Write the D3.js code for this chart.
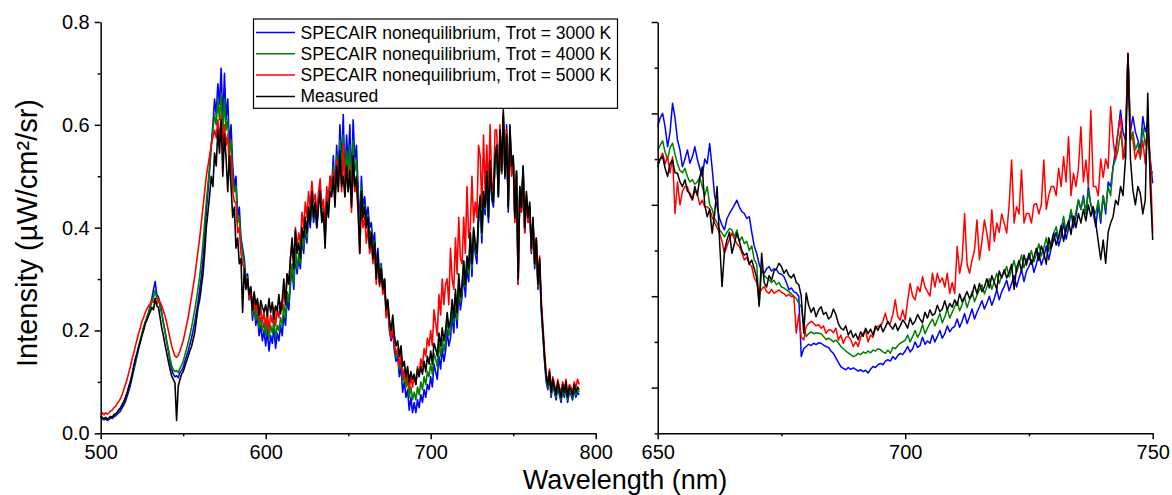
<!DOCTYPE html>
<html>
<head>
<meta charset="utf-8">
<script src="https://cdn.jsdelivr.net/npm/d3@7"></script>
<style>
  body { margin: 0; background: #fff; }
  svg { font-family: "Liberation Sans", Arial, sans-serif; }
</style>
</head>
<body>
<div class="main"></div>
<script>
// left panel: 500-790 nm, 1 nm grid
const leftStart = 500, leftStep = 1;
const leftMeasured = [
  .034,.030,.028,.031,.027,.030,.033,.031,.036,.038,
  .041,.046,.049,.056,.061,.070,.078,.090,.100,.113,
  .130,.145,.155,.168,.178,.190,.200,.213,.220,.229,
  .236,.245,.240,.262,.248,.245,.225,.205,.190,.172,
  .156,.140,.125,.112,.105,.098,.025,.092,.104,.115,
  .120,.130,.140,.150,.160,.168,.182,.196,.220,.245,
  .260,.285,.310,.350,.400,.430,.462,.500,.480,.545,
  .520,.590,.545,.610,.500,.580,.535,.470,.540,.480,
  .420,.440,.360,.380,.330,.340,.235,.320,.280,.300,
  .270,.285,.240,.275,.250,.262,.230,.258,.245,.236,
  .250,.228,.262,.235,.255,.222,.248,.238,.270,.232,
  .260,.300,.250,.310,.290,.340,.380,.320,.395,.350,
  .370,.340,.400,.380,.420,.390,.440,.410,.470,.420,
  .450,.400,.440,.470,.410,.430,.360,.450,.420,.470,
  .460,.500,.440,.520,.470,.550,.480,.500,.460,.520,
  .470,.510,.440,.540,.480,.500,.440,.350,.470,.420,
  .440,.400,.420,.360,.390,.340,.370,.300,.350,.290,
  .320,.280,.300,.240,.260,.220,.200,.230,.190,.170,
  .180,.150,.170,.130,.140,.110,.130,.100,.120,.105,
  .115,.095,.125,.110,.130,.115,.140,.120,.150,.135,
  .160,.135,.175,.165,.150,.195,.170,.205,.180,.200,
  .235,.205,.220,.260,.225,.280,.235,.310,.265,.290,
  .335,.290,.345,.320,.390,.330,.400,.370,.350,.430,
  .460,.390,.470,.440,.510,.420,.530,.470,.450,.540,
  .560,.460,.590,.510,.630,.500,.580,.440,.600,.520,
  .540,.420,.510,.300,.480,.440,.520,.400,.470,.420,
  .450,.360,.420,.330,.380,.290,.340,.250,.200,.150,
  .110,.095,.120,.080,.105,.090,.075,.100,.085,.070,
  .095,.080,.100,.070,.090,.085,.075,.095,.080,.090,
  .085
];
const left3000 = [
  .032,.028,.026,.028,.025,.027,.030,.029,.032,.034,
  .037,.040,.043,.050,.055,.062,.072,.082,.094,.108,
  .122,.136,.150,.165,.178,.192,.205,.215,.225,.235,
  .248,.262,.280,.295,.270,.265,.250,.235,.215,.198,
  .178,.160,.140,.125,.115,.110,.112,.108,.118,.122,
  .128,.140,.150,.160,.172,.185,.200,.215,.235,.255,
  .280,.305,.340,.380,.430,.470,.510,.560,.600,.650,
  .620,.680,.640,.710,.600,.700,.610,.650,.560,.600,
  .520,.480,.500,.420,.440,.380,.360,.340,.300,.310,
  .260,.280,.220,.250,.210,.230,.190,.210,.180,.200,
  .170,.200,.160,.190,.175,.205,.165,.195,.180,.210,
  .190,.230,.210,.260,.240,.290,.320,.280,.350,.310,
  .340,.320,.380,.350,.400,.370,.430,.400,.460,.410,
  .440,.400,.450,.480,.420,.440,.380,.470,.440,.500,
  .480,.540,.460,.560,.500,.600,.520,.620,.490,.580,
  .520,.600,.480,.610,.530,.560,.480,.400,.500,.440,
  .460,.420,.440,.400,.410,.370,.390,.320,.360,.300,
  .330,.280,.300,.230,.250,.200,.180,.200,.160,.140,
  .150,.110,.130,.080,.100,.070,.085,.045,.070,.040,
  .060,.040,.065,.050,.075,.060,.085,.070,.095,.085,
  .110,.090,.135,.120,.105,.150,.125,.165,.140,.160,
  .200,.170,.185,.230,.195,.255,.205,.280,.240,.265,
  .310,.265,.320,.295,.370,.305,.380,.350,.330,.410,
  .440,.370,.455,.425,.490,.410,.520,.455,.440,.530,
  .555,.460,.585,.505,.615,.495,.600,.430,.590,.510,
  .535,.415,.505,.290,.475,.430,.515,.390,.460,.410,
  .440,.350,.410,.320,.370,.280,.330,.240,.190,.140,
  .100,.085,.110,.070,.095,.080,.065,.090,.075,.060,
  .085,.070,.090,.060,.080,.075,.065,.085,.070,.080,
  .075
];
const left4000 = [
  .034,.030,.028,.030,.027,.029,.032,.031,.035,.037,
  .041,.045,.049,.055,.061,.069,.079,.090,.102,.115,
  .128,.142,.156,.170,.182,.195,.207,.217,.226,.234,
  .245,.255,.265,.278,.262,.262,.245,.232,.214,.198,
  .180,.164,.146,.132,.124,.120,.122,.118,.126,.132,
  .140,.152,.164,.176,.190,.205,.222,.240,.260,.282,
  .305,.335,.370,.410,.450,.485,.520,.560,.590,.620,
  .600,.650,.610,.660,.580,.650,.590,.610,.540,.570,
  .500,.470,.480,.410,.420,.370,.350,.330,.300,.305,
  .265,.280,.230,.255,.220,.240,.205,.225,.200,.215,
  .190,.215,.185,.210,.195,.220,.185,.210,.200,.225,
  .210,.250,.225,.275,.255,.300,.330,.290,.360,.320,
  .350,.330,.390,.360,.410,.380,.440,.410,.465,.420,
  .445,.405,.450,.475,.420,.440,.380,.465,.435,.490,
  .470,.520,.455,.540,.490,.570,.505,.580,.480,.550,
  .500,.560,.465,.570,.510,.530,.460,.380,.480,.425,
  .445,.405,.425,.385,.395,.355,.375,.310,.350,.295,
  .325,.280,.300,.235,.255,.210,.190,.210,.170,.150,
  .160,.125,.145,.100,.115,.090,.105,.070,.090,.065,
  .080,.065,.090,.075,.100,.085,.110,.095,.120,.110,
  .135,.115,.155,.145,.130,.175,.150,.185,.160,.180,
  .225,.190,.205,.250,.215,.270,.220,.295,.255,.280,
  .335,.285,.340,.310,.385,.320,.395,.360,.345,.420,
  .465,.385,.470,.435,.505,.420,.530,.465,.450,.535,
  .560,.465,.590,.505,.620,.500,.590,.440,.595,.515,
  .540,.420,.510,.295,.480,.435,.520,.395,.465,.415,
  .445,.355,.415,.325,.375,.285,.335,.245,.195,.145,
  .105,.090,.115,.075,.100,.085,.070,.095,.080,.065,
  .090,.075,.095,.065,.085,.080,.070,.090,.075,.085,
  .080
];
const left5000 = [
  .036,.040,.036,.040,.037,.040,.043,.045,.050,.052,
  .058,.062,.068,.075,.085,.095,.105,.118,.130,.145,
  .155,.170,.182,.195,.205,.218,.225,.235,.242,.248,
  .252,.258,.255,.262,.250,.262,.255,.248,.238,.228,
  .215,.200,.185,.170,.160,.150,.148,.152,.160,.170,
  .180,.195,.210,.225,.245,.265,.285,.305,.330,.355,
  .380,.410,.440,.470,.500,.520,.540,.560,.575,.590,
  .575,.610,.570,.620,.550,.600,.560,.580,.510,.540,
  .470,.450,.450,.390,.400,.350,.330,.320,.290,.300,
  .260,.280,.240,.265,.235,.255,.220,.245,.215,.235,
  .205,.235,.200,.230,.215,.245,.210,.240,.225,.255,
  .240,.280,.255,.310,.290,.340,.370,.330,.400,.360,
  .390,.370,.430,.400,.450,.420,.470,.440,.490,.450,
  .465,.425,.470,.495,.440,.455,.395,.480,.450,.500,
  .480,.510,.450,.530,.480,.540,.470,.560,.460,.520,
  .470,.520,.430,.520,.470,.480,.430,.350,.450,.400,
  .420,.370,.400,.350,.370,.330,.360,.290,.340,.285,
  .315,.270,.290,.225,.245,.205,.185,.205,.170,.155,
  .165,.130,.155,.110,.125,.100,.120,.085,.110,.090,
  .110,.095,.130,.115,.145,.130,.165,.150,.185,.170,
  .200,.170,.240,.215,.190,.270,.230,.300,.250,.290,
  .300,.250,.360,.300,.280,.380,.310,.420,.340,.330,
  .420,.350,.480,.380,.400,.500,.410,.450,.420,.560,
  .540,.440,.580,.470,.560,.470,.600,.490,.470,.590,
  .590,.480,.600,.510,.620,.500,.590,.450,.580,.500,
  .530,.410,.500,.290,.470,.430,.510,.390,.455,.410,
  .440,.355,.415,.330,.380,.290,.345,.260,.210,.160,
  .115,.100,.125,.085,.110,.095,.080,.105,.090,.080,
  .100,.085,.105,.075,.095,.090,.080,.100,.090,.105,
  .095
];

// right panel: 650-750 nm, 0.5 nm grid (arbitrary units, axis unlabeled)
const rightStart = 650, rightStep = 0.5;
const rightMeasured = [
  .683,.700,.705,.680,.662,.690,.698,.670,.669,.650,
  .640,.655,.630,.625,.612,.640,.620,.660,.683,.600,
  .574,.590,.538,.580,.640,.520,.421,.500,.523,.540,
  .494,.515,.538,.520,.500,.490,.494,.470,.479,.460,
  .440,.380,.494,.430,.420,.445,.435,.455,.460,.472,
  .465,.450,.458,.445,.440,.448,.430,.425,.400,.319,
  .407,.380,.365,.375,.355,.370,.377,.360,.365,.350,
  .355,.372,.360,.340,.330,.326,.335,.315,.325,.310,
  .318,.305,.322,.312,.330,.318,.328,.315,.335,.325,
  .338,.322,.333,.345,.335,.328,.340,.325,.335,.348,
  .341,.330,.352,.338,.345,.360,.350,.342,.365,.352,
  .370,.358,.362,.380,.366,.372,.390,.370,.384,.376,
  .392,.380,.405,.388,.398,.410,.395,.402,.425,.405,
  .428,.410,.420,.438,.418,.445,.430,.415,.455,.440,
  .458,.440,.452,.470,.415,.462,.478,.455,.490,.468,
  .494,.470,.485,.505,.478,.510,.495,.470,.528,.505,
  .538,.512,.530,.555,.520,.548,.565,.535,.575,.550,
  .581,.560,.590,.565,.600,.575,.596,.560,.520,.480,
  .523,.472,.540,.560,.574,.610,.600,.640,.620,.700,
  .931,.700,.632,.600,.640,.625,.580,.610,.844,.640,
  .523
];
const right3000 = [
  .771,.790,.800,.770,.727,.760,.822,.790,.742,.720,
  .683,.700,.720,.691,.705,.727,.700,.680,.662,.700,
  .690,.734,.680,.620,.596,.570,.555,.545,.570,.581,
  .590,.600,.610,.595,.585,.581,.570,.574,.540,.510,
  .494,.470,.455,.450,.460,.465,.455,.460,.458,.450,
  .448,.443,.430,.414,.418,.410,.407,.400,.268,.285,
  .290,.295,.292,.297,.294,.298,.297,.293,.290,.288,
  .280,.275,.265,.255,.246,.242,.239,.244,.240,.243,
  .240,.236,.239,.235,.238,.232,.240,.246,.244,.250,
  .253,.250,.258,.261,.258,.268,.262,.270,.275,.272,
  .280,.290,.278,.285,.300,.288,.292,.310,.295,.302,
  .297,.315,.300,.312,.325,.308,.318,.335,.322,.330,
  .334,.350,.332,.345,.362,.340,.355,.372,.350,.365,
  .377,.390,.372,.385,.400,.380,.395,.415,.392,.410,
  .421,.435,.412,.428,.445,.420,.440,.458,.432,.455,
  .465,.480,.452,.470,.495,.468,.485,.510,.480,.505,
  .523,.540,.510,.530,.560,.525,.548,.585,.550,.575,
  .610,.590,.620,.580,.640,.600,.580,.552,.600,.560,
  .620,.580,.650,.640,.683,.720,.760,.807,.760,.740,
  .931,.760,.793,.760,.742,.720,.793,.760,.780,.700,
  .647
];
const right4000 = [
  .720,.730,.740,.715,.700,.725,.735,.710,.690,.675,
  .670,.680,.662,.650,.655,.645,.650,.660,.640,.620,
  .640,.600,.590,.570,.560,.545,.538,.530,.540,.548,
  .545,.530,.545,.520,.530,.515,.520,.500,.510,.480,
  .470,.377,.460,.445,.440,.436,.430,.435,.425,.430,
  .420,.418,.414,.410,.405,.400,.395,.385,.377,.340,
  .312,.318,.322,.318,.320,.319,.318,.312,.305,.308,
  .305,.300,.304,.298,.290,.285,.280,.276,.272,.268,
  .270,.275,.272,.278,.275,.280,.276,.282,.280,.285,
  .283,.278,.275,.282,.275,.288,.285,.292,.297,.300,
  .304,.315,.300,.312,.325,.310,.320,.338,.318,.330,
  .341,.350,.335,.348,.362,.342,.355,.372,.352,.365,
  .377,.388,.368,.382,.398,.375,.392,.410,.388,.402,
  .414,.425,.405,.420,.438,.415,.432,.450,.428,.445,
  .450,.465,.442,.458,.478,.452,.470,.490,.462,.482,
  .480,.500,.475,.492,.515,.488,.505,.528,.498,.520,
  .538,.552,.525,.545,.575,.540,.560,.590,.560,.585,
  .611,.590,.615,.580,.630,.600,.590,.581,.610,.570,
  .620,.590,.640,.620,.683,.700,.720,.760,.720,.700,
  .931,.740,.760,.720,.735,.700,.770,.730,.760,.680,
  .669
];
const right5000 = [
  .690,.700,.713,.690,.705,.670,.705,.581,.650,.600,
  .630,.640,.640,.620,.610,.630,.625,.600,.610,.596,
  .596,.590,.574,.560,.550,.538,.520,.494,.510,.525,
  .538,.525,.515,.509,.495,.479,.485,.470,.465,.440,
  .430,.406,.415,.421,.410,.406,.415,.406,.410,.414,
  .408,.406,.400,.404,.399,.400,.319,.360,.310,.304,
  .334,.340,.345,.341,.335,.338,.330,.335,.319,.326,
  .326,.320,.330,.304,.315,.297,.310,.312,.305,.290,
  .300,.290,.310,.319,.325,.300,.315,.310,.330,.334,
  .334,.345,.363,.340,.341,.360,.392,.355,.348,.370,
  .348,.390,.428,.400,.392,.421,.410,.443,.420,.410,
  .400,.450,.420,.450,.430,.440,.420,.450,.406,.430,
  .406,.509,.450,.480,.581,.470,.450,.479,.500,.567,
  .480,.520,.567,.538,.500,.589,.520,.560,.540,.580,
  .560,.538,.600,.698,.560,.596,.580,.676,.560,.581,
  .581,.560,.600,.603,.580,.600,.698,.590,.620,.640,
  .640,.620,.680,.640,.705,.650,.749,.620,.669,.640,
  .680,.771,.650,.698,.640,.807,.640,.640,.620,.700,
  .660,.700,.680,.815,.742,.700,.760,.793,.700,.740,
  .931,.760,.742,.700,.720,.705,.740,.690,.756,.700,
  .538
];

const seriesNames = [
  "SPECAIR nonequilibrium, Trot = 3000 K",
  "SPECAIR nonequilibrium, Trot = 4000 K",
  "SPECAIR nonequilibrium, Trot = 5000 K",
  "Measured"
];
const seriesColors = ["#0000ff", "#008000", "#ff0000", "#000000"];

const leftSeries = [left3000, left4000, left5000, leftMeasured];
const rightSeries = [right3000, right4000, right5000, rightMeasured];

const w = 1172;
const h = 495;
const plotTop = 22, plotBottom = 433.3;

const svg = d3.select(".main")
  .append("svg")
  .attr("width", w)
  .attr("height", h);

const xL = d3.scaleLinear().domain([500, 800]).range([100.7, 595.7]);
const yL = d3.scaleLinear().domain([0, 0.8]).range([plotBottom, plotTop]);
const xR = d3.scaleLinear().domain([650, 750]).range([657.7, 1152.7]);
const yR = d3.scaleLinear().domain([0.1, 1.0]).range([plotBottom, plotTop]);

function drawLines(series, start, step, x, y, sw) {
  series.forEach((vals, k) => {
    const pts = vals.map((v, i) => [start + i * step, v]);
    svg.append("path")
      .datum(pts)
      .attr("fill", "none")
      .attr("stroke", seriesColors[k])
      .attr("stroke-width", sw)
      .attr("stroke-linejoin", "round")
      .attr("d", d3.line().x(d => x(d[0])).y(d => y(d[1])));
  });
}

drawLines(leftSeries, leftStart, leftStep, xL, yL, 1.6);
drawLines(rightSeries, rightStart, rightStep, xR, yR, 1.5);

function styleAxis(g) {
  g.selectAll("path, line").attr("stroke", "#000").attr("stroke-width", 1.5);
  g.selectAll("text").attr("fill", "#000").style("font-size", "20px")
    .style("font-family", "'Liberation Sans', Arial, sans-serif");
}

function minorAxis(axis, at) {
  const g = svg.append("g").attr("transform", at).call(axis);
  g.select(".domain").remove();
  styleAxis(g);
}

// left panel axes
svg.append("g")
  .attr("transform", "translate(0," + plotBottom + ")")
  .call(d3.axisBottom(xL).tickValues([500, 600, 700, 800]).tickSize(6).tickSizeOuter(0).tickPadding(6))
  .call(styleAxis);
minorAxis(d3.axisBottom(xL).tickValues([550, 650, 750]).tickSize(3).tickFormat(""), "translate(0," + plotBottom + ")");

svg.append("g")
  .attr("transform", "translate(" + xL(500) + ",0)")
  .call(d3.axisLeft(yL).tickValues([0, 0.2, 0.4, 0.6, 0.8]).tickFormat(d3.format(".1f")).tickSize(6).tickSizeOuter(0).tickPadding(5))
  .call(styleAxis);
minorAxis(d3.axisLeft(yL).tickValues([0.1, 0.3, 0.5, 0.7]).tickSize(3).tickFormat(""), "translate(" + xL(500) + ",0)");

// right panel axes
svg.append("g")
  .attr("transform", "translate(0," + plotBottom + ")")
  .call(d3.axisBottom(xR).tickValues([650, 700, 750]).tickSize(6).tickSizeOuter(0).tickPadding(6))
  .call(styleAxis);
minorAxis(d3.axisBottom(xR).tickValues([675, 725]).tickSize(3).tickFormat(""), "translate(0," + plotBottom + ")");

svg.append("g")
  .attr("transform", "translate(" + xR(650) + ",0)")
  .call(d3.axisLeft(yR).tickValues([0.2, 0.4, 0.6, 0.8, 1.0]).tickFormat("").tickSize(6).tickSizeOuter(0))
  .call(styleAxis);
minorAxis(d3.axisLeft(yR).tickValues([0.1, 0.3, 0.5, 0.7, 0.9]).tickSize(3).tickFormat(""), "translate(" + xR(650) + ",0)");

// axis titles
svg.append("text")
  .attr("x", 625)
  .attr("y", 488.5)
  .style("text-anchor", "middle")
  .style("font-size", "27px")
  .text("Wavelength (nm)");

svg.append("text")
  .attr("transform", "rotate(-90)")
  .attr("x", -233)
  .attr("y", 37)
  .style("text-anchor", "middle")
  .style("font-size", "29px")
  .text("Intensity (µW/cm²/sr)");

// legend
const legend = svg.append("g");
legend.append("rect")
  .attr("x", 253.5)
  .attr("y", 19)
  .attr("width", 364)
  .attr("height", 89.3)
  .attr("fill", "#fff")
  .attr("stroke", "#000")
  .attr("stroke-width", 1.2);

seriesNames.forEach((name, i) => {
  const yy = 32.5 + i * 21.3;
  legend.append("line")
    .attr("x1", 256).attr("x2", 295)
    .attr("y1", yy).attr("y2", yy)
    .attr("stroke", seriesColors[i])
    .attr("stroke-width", 1.5);
  legend.append("text")
    .attr("x", 300.5)
    .attr("y", yy + 6)
    .style("font-size", "17.5px")
    .text(name);
});
</script>
</body>
</html>
